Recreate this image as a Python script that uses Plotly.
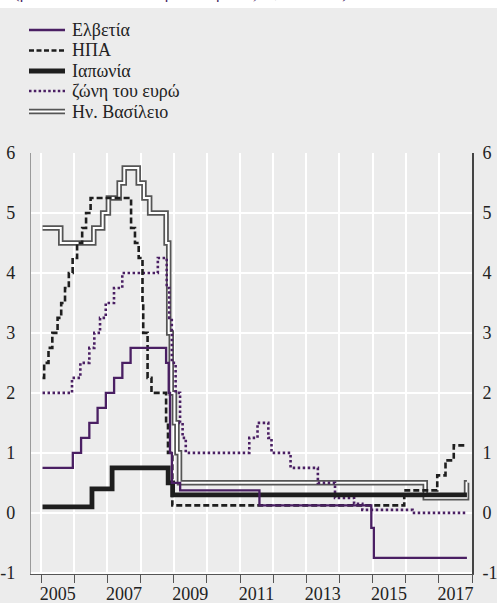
import plotly.graph_objects as go

# ---- data: policy rate step series (date of change, level in %) ----
ch_dates = ["2005-01-15", "2005-12-15", "2006-03-16", "2006-06-15", "2006-09-14", "2006-12-14",
            "2007-03-15", "2007-06-14", "2007-09-13", "2008-10-08", "2008-11-06", "2008-11-20",
            "2008-12-11", "2009-03-12", "2011-08-03", "2014-12-18", "2015-01-15", "2017-11-06"]
ch_vals = [0.75, 1.0, 1.25, 1.5, 1.75, 2.0, 2.25, 2.5, 2.75, 2.5, 2.0, 1.0, 0.5, 0.375, 0.125, -0.25, -0.75, -0.75]

us_dates = ["2005-01-15", "2005-02-02", "2005-03-22", "2005-05-03", "2005-06-30", "2005-08-09",
            "2005-09-20", "2005-11-01", "2005-12-13", "2006-01-31", "2006-03-28", "2006-05-10",
            "2006-06-29", "2007-09-18", "2007-10-31", "2007-12-11", "2008-01-22", "2008-01-30",
            "2008-03-18", "2008-04-30", "2008-10-08", "2008-10-29", "2008-12-16", "2015-12-16",
            "2016-12-14", "2017-03-15", "2017-06-14", "2017-11-06"]
us_vals = [2.25, 2.5, 2.75, 3.0, 3.25, 3.5, 3.75, 4.0, 4.25, 4.5, 4.75, 5.0, 5.25, 4.75, 4.5, 4.25,
           3.5, 3.0, 2.25, 2.0, 1.5, 1.0, 0.125, 0.375, 0.625, 0.875, 1.125, 1.125]

jp_dates = ["2005-01-15", "2006-07-14", "2007-02-21", "2008-10-31", "2008-12-19", "2017-11-06"]
jp_vals = [0.1, 0.4, 0.75, 0.5, 0.3, 0.3]

ea_dates = ["2005-01-15", "2005-12-06", "2006-03-08", "2006-06-15", "2006-08-09", "2006-10-11",
            "2006-12-13", "2007-03-14", "2007-06-13", "2008-07-09", "2008-10-15", "2008-11-12",
            "2008-12-10", "2009-01-21", "2009-03-11", "2009-04-08", "2009-05-13", "2011-04-13",
            "2011-07-13", "2011-11-09", "2011-12-14", "2012-07-11", "2013-05-08", "2013-11-13",
            "2014-06-11", "2014-09-10", "2016-03-16", "2017-11-06"]
ea_vals = [2.0, 2.25, 2.5, 2.75, 3.0, 3.25, 3.5, 3.75, 4.0, 4.25, 3.75, 3.25, 2.5, 2.0, 1.5, 1.25,
           1.0, 1.25, 1.5, 1.25, 1.0, 0.75, 0.5, 0.25, 0.15, 0.05, 0.0, 0.0]

uk_dates = ["2005-01-15", "2005-08-04", "2006-08-03", "2006-11-09", "2007-01-11", "2007-05-10",
            "2007-07-05", "2007-12-06", "2008-02-07", "2008-04-10", "2008-10-08", "2008-11-06",
            "2008-12-04", "2009-01-08", "2009-02-05", "2009-03-05", "2016-08-04", "2017-11-02",
            "2017-11-06"]
uk_vals = [4.75, 4.5, 4.75, 5.0, 5.25, 5.5, 5.75, 5.5, 5.25, 5.0, 4.5, 3.0, 2.0, 1.5, 1.0, 0.5,
           0.25, 0.5, 0.5]

series_names = ["Ελβετία", "ΗΠΑ", "Ιαπωνία", "ζώνη του ευρώ", "Ην. Βασίλειο"]
year_labels = ["2005", "2007", "2009", "2011", "2013", "2015", "2017"]
y_ticks = [-1, 0, 1, 2, 3, 4, 5, 6]
title_text = "(βασικά επιτόκια κεντρικών τραπεζών, ποσοστό)"

PURPLE = "#4a1f63"
BLACK = "#1e1e1e"
BG = "#ececec"
FONT = "Liberation Serif, DejaVu Serif, serif"

fig = go.Figure()

# UK double line: thick grey + thin white core
fig.add_trace(go.Scatter(x=uk_dates, y=uk_vals, mode="lines", line=dict(color="#555555", width=5.5, shape="hv"),
                         showlegend=False, hoverinfo="skip"))
fig.add_trace(go.Scatter(x=uk_dates, y=uk_vals, mode="lines", line=dict(color="#ffffff", width=2, shape="hv"),
                         name=series_names[4], showlegend=False))
fig.add_trace(go.Scatter(x=ea_dates, y=ea_vals, mode="lines",
                         line=dict(color=PURPLE, width=2.6, shape="hv", dash="2.5px,2.5px"),
                         name=series_names[3], showlegend=False))
fig.add_trace(go.Scatter(x=jp_dates, y=jp_vals, mode="lines", line=dict(color=BLACK, width=4.8, shape="hv"),
                         name=series_names[2], showlegend=False))
fig.add_trace(go.Scatter(x=us_dates, y=us_vals, mode="lines",
                         line=dict(color=BLACK, width=2.6, shape="hv", dash="6px,3px"),
                         name=series_names[1], showlegend=False))
fig.add_trace(go.Scatter(x=ch_dates, y=ch_vals, mode="lines", line=dict(color=PURPLE, width=2.3, shape="hv"),
                         name=series_names[0], showlegend=False))
# invisible trace for the secondary axes
fig.add_trace(go.Scatter(x=["2010-01-01"], y=[0], xaxis="x2", yaxis="y2", mode="markers",
                         marker=dict(opacity=0), showlegend=False, hoverinfo="skip"))

W, H = 497, 603
ml, mr, mt, mb = 31, 25, 153, 29
pw, ph = W - ml - mr, H - mt - mb


def px_x(p):
    return (p - ml) / pw


def px_y(p):
    return 1 + (mt - p) / ph


shapes = []
annotations = []
# top white strip
shapes.append(dict(type="rect", xref="paper", yref="paper", x0=px_x(0), x1=px_x(W), y0=px_y(8), y1=px_y(0),
                   fillcolor="#ffffff", line=dict(width=0), layer="above"))
annotations.append(dict(text=title_text, xref="paper", yref="paper", x=px_x(12), y=px_y(4),
                        xanchor="left", yanchor="bottom", showarrow=False,
                        font=dict(family=FONT, size=17, color=PURPLE)))

# manual legend
leg_y = [30, 50.5, 71, 91, 111.5]
lx0, lx1 = px_x(29), px_x(65)
leg_styles = [
    [dict(color=PURPLE, width=2.3)],
    [dict(color=BLACK, width=2.6, dash="5px,2.5px")],
    [dict(color=BLACK, width=4.8)],
    [dict(color=PURPLE, width=2.6, dash="2.5px,2.3px")],
    [dict(color="#555555", width=5.5), dict(color="#ffffff", width=2)],
]
for name, yy, styles in zip(series_names, leg_y, leg_styles):
    for st in styles:
        shapes.append(dict(type="line", xref="paper", yref="paper", x0=lx0, x1=lx1,
                           y0=px_y(yy), y1=px_y(yy), line=st))
    annotations.append(dict(text=name, xref="paper", yref="paper", x=px_x(70), y=px_y(yy),
                            xanchor="left", yanchor="middle", showarrow=False,
                            font=dict(family=FONT, size=18, color="#222222")))

xr = ["2004-09-10", "2018-01-01"]
fig.update_layout(
    width=W, height=H,
    margin=dict(l=ml, r=mr, t=mt, b=mb, autoexpand=False),
    paper_bgcolor=BG, plot_bgcolor=BG,
    showlegend=False,
    shapes=shapes, annotations=annotations,
    font=dict(family=FONT, size=17, color="#222222"),
    xaxis=dict(type="date", range=xr, tick0="2005-01-01", dtick="M12", showticklabels=False,
               showgrid=True, gridcolor="white", gridwidth=1.6, ticks="outside", ticklen=8,
               tickwidth=1.3, tickcolor="#555555", showline=True, linecolor="#555555", linewidth=1.3,
               zeroline=False, automargin=False),
    xaxis2=dict(type="date", range=xr, overlaying="x", anchor="y", side="bottom",
                tickvals=[f"{y}-07-02" for y in year_labels], ticktext=year_labels,
                ticks="", showgrid=False, showline=False, zeroline=False, ticklabelstandoff=7,
                automargin=False, tickfont=dict(family=FONT, size=18, color="#222222")),
    yaxis=dict(range=[-1.02, 6], tickvals=y_ticks, ticktext=[str(v) for v in y_ticks],
               showgrid=True, gridcolor="white", gridwidth=1.6, zeroline=False, ticks="",
               showline=True, linecolor="#9a9a9a", linewidth=1.2, ticklabelstandoff=11,
               automargin=False, tickfont=dict(family=FONT, size=18, color="#222222")),
    yaxis2=dict(range=[-1.02, 6], overlaying="y", side="right", anchor="x",
                tickvals=y_ticks, ticktext=[str(v) for v in y_ticks], showgrid=False,
                zeroline=False, ticks="", showline=True, linecolor="#444444", linewidth=2,
                ticklabelstandoff=5, automargin=False,
                tickfont=dict(family=FONT, size=18, color="#222222")),
)

fig.write_html("out.html", config={"displayModeBar": False},
               post_script="document.body.style.margin='0';document.body.style.background='#ececec';")
